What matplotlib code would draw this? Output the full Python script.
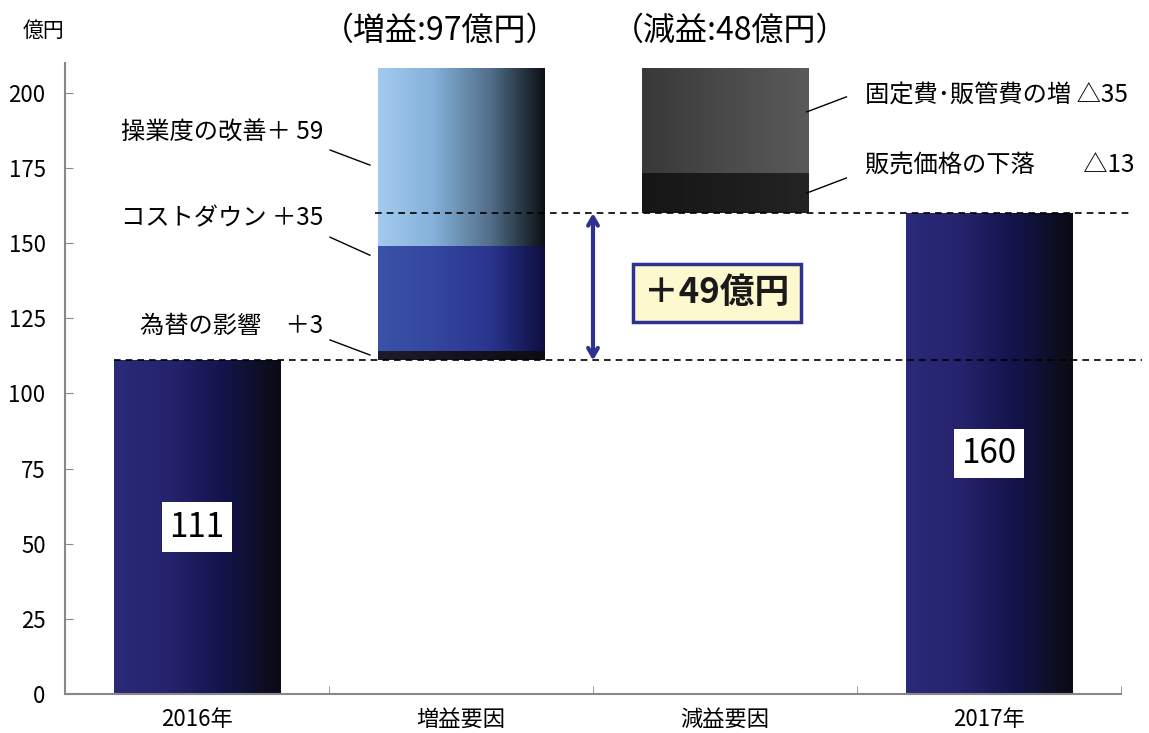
import numpy as np
import matplotlib
matplotlib.use("Agg")
import matplotlib.pyplot as plt
from matplotlib.colors import LinearSegmentedColormap

plt.rcParams['font.family'] = ['Noto Sans CJK JP', 'DejaVu Sans']

# data
categories = ['2016年', '増益要因', '減益要因', '2017年']
start_value = 111
end_value = 160
gain_labels = ['為替の影響　＋3', 'コストダウン ＋35', '操業度の改善＋ 59']
gain_values = [3, 35, 59]
loss_labels = ['固定費･販管費の増 △35', '販売価格の下落　　△13']
loss_values = [35, 13]
yticks = [0, 25, 50, 75, 100, 125, 150, 175, 200]

# gradient colour stops for each piece (left -> right)
total_colors = ['#2b2a7a', '#25236c', '#13134a', '#0b0b12']
gain_colors = [['#1c1c2c', '#141420', '#0c0c12'],
               ['#3a52a8', '#3446a0', '#2a3590', '#0e0e40'],
               ['#a4cbee', '#84b0da', '#53708c', '#0c0f14']]
loss_colors = [['#383838', '#4a4a4a', '#5a5a5a'],
               ['#161616', '#1c1c1c', '#242424']]

BW = 0.63


def grad_bar(ax, x, bottom, height, colors, width=BW, z=2):
    cmap = LinearSegmentedColormap.from_list('g', colors)
    img = np.linspace(0, 1, 256).reshape(1, -1)
    ax.imshow(img, cmap=cmap, aspect='auto', interpolation='bicubic',
              extent=[x - width / 2, x + width / 2, bottom, bottom + height],
              zorder=z)


fig = plt.figure(figsize=(11.49, 7.33), dpi=100)
ax = fig.add_axes([0.0566, 0.0532, 0.919, 0.861])

# start / end bars
grad_bar(ax, 0, 0, start_value, total_colors)
grad_bar(ax, 3, 0, end_value, total_colors)

# gain stack
b = start_value
for v, c in zip(gain_values, gain_colors):
    grad_bar(ax, 1, b, v, c)
    b += v
top = b

# loss stack (from the top down)
b = top
for v, c in zip(loss_values, loss_colors):
    b -= v
    grad_bar(ax, 2, b, v, c)

# value boxes
for x, v in [(0, start_value), (3, end_value)]:
    ax.text(x, v / 2, str(v), ha='center', va='center', fontsize=24,
            bbox=dict(boxstyle='square,pad=0.22', fc='white', ec='none'),
            zorder=5)

# dashed reference lines
ax.plot([-BW / 2, 3.58], [start_value, start_value], ls=(0, (4, 3)),
        color='black', lw=1.2, clip_on=False, zorder=4)
ax.plot([1 - BW / 2 - 0.01, 3.53], [end_value, end_value], ls=(0, (4, 3)),
        color='black', lw=1.2, clip_on=False, zorder=4)

# gain leader lines + labels
gain_text_y = [122.5, 158.4, 186.7]
gain_line = [(117.8, 112.8), (152, 146), (181, 176)]
for lab, ty, (y0, y1) in zip(gain_labels, gain_text_y, gain_line):
    ax.plot([0.504, 0.655], [y0, y1], color='black', lw=1, zorder=4)
    ax.text(0.48, ty, lab, ha='right', va='center', fontsize=17.5)

# loss leader lines + labels
loss_text_y = [199.3, 176]
loss_line = [(193.7, 198.7), (166.7, 171.7)]
for lab, ty, (y0, y1) in zip(loss_labels, loss_text_y, loss_line):
    ax.plot([2.31, 2.46], [y0, y1], color='black', lw=1, zorder=4)
    ax.text(2.53, ty, lab, ha='left', va='center', fontsize=17.5)

# double arrow and difference box
ax.annotate('', xy=(1.5, start_value), xytext=(1.5, end_value),
            arrowprops=dict(arrowstyle='<->,head_length=0.6,head_width=0.35',
                            color='#2e3192', lw=3, shrinkA=0, shrinkB=0))
ax.text(1.97, 133.5, '＋49億円', ha='center', va='center', fontsize=25,
        fontweight='bold', color='#1a1a1a',
        bbox=dict(boxstyle='square,pad=0.33', fc='#fdf9cf', ec='#2e3192', lw=2.5))

# header texts
ax.text(0.92, 220.5, '（増益:97億円）', ha='center', va='center', fontsize=23,
        clip_on=False)
ax.text(2.02, 220.5, '（減益:48億円）', ha='center', va='center', fontsize=23,
        clip_on=False)
ax.text(-0.58, 220.5, '億円', ha='center', va='center', fontsize=15,
        clip_on=False)

# axes styling
ax.set_xlim(-0.5, 3.5)
ax.set_ylim(0, 210)
ax.set_yticks(yticks)
ax.set_yticklabels([str(t) for t in yticks], fontsize=16)
ax.set_xticks([0, 1, 2, 3])
ax.set_xticklabels(categories, fontsize=16)
ax.set_xticks([0.5, 1.5, 2.5, 3.5], minor=True)
ax.tick_params(axis='x', which='major', length=0, pad=10)
ax.tick_params(axis='x', which='minor', direction='in', length=6, color='#888888')
ax.tick_params(axis='y', direction='in', length=6, color='#888888', pad=14)
for s in ['top', 'right']:
    ax.spines[s].set_visible(False)
for s in ['left', 'bottom']:
    ax.spines[s].set_color('#888888')
    ax.spines[s].set_linewidth(1.5)

fig.savefig('out.png', dpi=100)
